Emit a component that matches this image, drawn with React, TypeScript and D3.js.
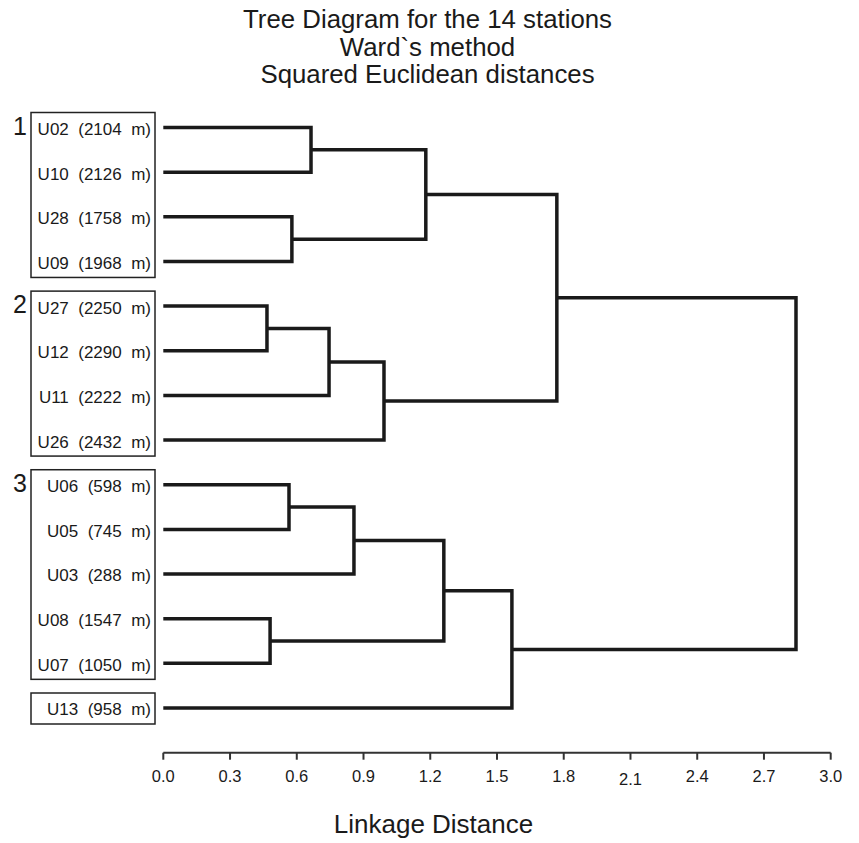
import { useEffect, useRef } from 'react';
import * as d3 from 'd3';

const WIDTH = 859;
const HEIGHT = 843;

// leaves, top to bottom
const stations = ['U02', 'U10', 'U28', 'U09', 'U27', 'U12', 'U11', 'U26', 'U06', 'U05', 'U03', 'U08', 'U07', 'U13'];
const elevations = [2104, 2126, 1758, 1968, 2250, 2290, 2222, 2432, 598, 745, 288, 1547, 1050, 958];

// merges (linkage style): node ids 0..13 are leaves, merge k becomes node 14 + k
const mergeLeft = [0, 2, 14, 4, 17, 18, 16, 8, 21, 11, 22, 24, 20];
const mergeRight = [1, 3, 15, 5, 6, 7, 19, 9, 10, 12, 23, 13, 25];
const mergeHeights = [0.664, 0.578, 1.18, 0.466, 0.745, 0.992, 1.769, 0.565, 0.857, 0.48, 1.261, 1.567, 2.844];

const groupLabels = ['1', '2', '3', ''];
const groupFirst = ['U02', 'U27', 'U06', 'U13'];
const groupLast = ['U09', 'U26', 'U07', 'U13'];

const xTicks = [0, 0.3, 0.6, 0.9, 1.2, 1.5, 1.8, 2.1, 2.4, 2.7, 3.0];

const titleLines = ['Tree Diagram for the 14 stations', 'Ward`s method', 'Squared Euclidean distances'];

const FONT = '"Liberation Sans", Arial, sans-serif';

interface TreeNode {
  id: number;
  name?: string;
  height: number;
  children?: TreeNode[];
}

function buildTree(): TreeNode {
  const nodes: TreeNode[] = stations.map((s, i) => ({ id: i, name: s, height: 0 }));
  mergeHeights.forEach((h, k) => {
    nodes.push({
      id: stations.length + k,
      height: h,
      children: [nodes[mergeLeft[k]], nodes[mergeRight[k]]],
    });
  });
  return nodes[nodes.length - 1];
}

function Dendrogram() {
  const svgRef = useRef<SVGSVGElement>(null);

  useEffect(() => {
    document.body.style.margin = '0';
    if (!svgRef.current) return;
    const svg = d3.select(svgRef.current);
    svg.selectAll('*').remove();

    const x = d3.scaleLinear().domain([0, 3]).range([163.3, 830.7]);
    const y = d3.scalePoint<string>().domain(stations).range([127.5, 708]);

    const root = d3.hierarchy(buildTree());
    const pos = new Map<d3.HierarchyNode<TreeNode>, { px: number; py: number }>();
    root.eachAfter(n => {
      if (!n.children) {
        pos.set(n, { px: x(0), py: y(n.data.name!) || 0 });
      } else {
        const ys = n.children.map(c => pos.get(c)!.py);
        pos.set(n, { px: x(n.data.height), py: (ys[0] + ys[1]) / 2 });
      }
    });

    // Title
    svg.append('g')
      .selectAll('text')
      .data(titleLines)
      .enter()
      .append('text')
      .attr('x', 427.5)
      .attr('y', (_, i) => 28 + i * 27.5)
      .attr('text-anchor', 'middle')
      .attr('font-family', FONT)
      .attr('font-size', 25.8)
      .attr('fill', '#1a1a1a')
      .text(d => d);

    // Group boxes
    const boxes = svg.append('g');
    groupFirst.forEach((first, i) => {
      const top = (y(first) || 0) - 15;
      const bottom = (y(groupLast[i]) || 0) + 16;
      boxes.append('rect')
        .attr('x', 31)
        .attr('y', top)
        .attr('width', 124)
        .attr('height', bottom - top)
        .attr('fill', 'none')
        .attr('stroke', '#222')
        .attr('stroke-width', 1.5);
      if (groupLabels[i]) {
        boxes.append('text')
          .attr('x', 27)
          .attr('y', top + 22)
          .attr('text-anchor', 'end')
          .attr('font-family', FONT)
          .attr('font-size', 25)
          .attr('fill', '#1a1a1a')
          .text(groupLabels[i]);
      }
    });

    // Leaf labels
    svg.append('g')
      .selectAll('text')
      .data(stations)
      .enter()
      .append('text')
      .attr('x', 151)
      .attr('y', d => (y(d) || 0) + 1.5)
      .attr('dy', '0.35em')
      .attr('text-anchor', 'end')
      .attr('font-family', FONT)
      .attr('font-size', 17)
      .attr('fill', '#1a1a1a')
      .attr('xml:space', 'preserve')
      .style('white-space', 'pre')
      .text((d, i) => `${d}  (${elevations[i]}  m)`);

    // Elbows
    const links = svg.append('g')
      .attr('fill', 'none')
      .attr('stroke', '#1a1a1a')
      .attr('stroke-width', 3.5)
      .attr('stroke-linejoin', 'miter');
    root.descendants().filter(n => n.children).forEach(n => {
      const p = pos.get(n)!;
      const a = pos.get(n.children![0])!;
      const b = pos.get(n.children![1])!;
      const path = d3.path();
      path.moveTo(a.px, a.py);
      path.lineTo(p.px, a.py);
      path.lineTo(p.px, b.py);
      path.lineTo(b.px, b.py);
      links.append('path').attr('d', path.toString());
    });

    // X axis
    const axisY = 752.7;
    const axis = svg.append('g');
    axis.append('line')
      .attr('x1', x(0))
      .attr('x2', x(3))
      .attr('y1', axisY)
      .attr('y2', axisY)
      .attr('stroke', '#333')
      .attr('stroke-width', 2);
    axis.selectAll('.tick')
      .data(xTicks)
      .enter()
      .append('line')
      .attr('class', 'tick')
      .attr('x1', d => x(d))
      .attr('x2', d => x(d))
      .attr('y1', axisY)
      .attr('y2', axisY + 7)
      .attr('stroke', '#333')
      .attr('stroke-width', 2);
    axis.selectAll('.tick-label')
      .data(xTicks)
      .enter()
      .append('text')
      .attr('class', 'tick-label')
      .attr('x', d => x(d))
      .attr('y', d => (d === 2.1 ? 784.5 : 781.7))
      .attr('text-anchor', 'middle')
      .attr('font-family', FONT)
      .attr('font-size', 16.5)
      .attr('fill', '#1a1a1a')
      .text(d => d.toFixed(1));

    svg.append('text')
      .attr('x', 433.5)
      .attr('y', 832.5)
      .attr('text-anchor', 'middle')
      .attr('font-family', FONT)
      .attr('font-size', 26)
      .attr('fill', '#1a1a1a')
      .text('Linkage Distance');
  }, []);

  return <svg ref={svgRef} width={WIDTH} height={HEIGHT} style={{ display: 'block', background: '#fff' }} />;
}

export default function App() {
  return <Dendrogram />;
}
